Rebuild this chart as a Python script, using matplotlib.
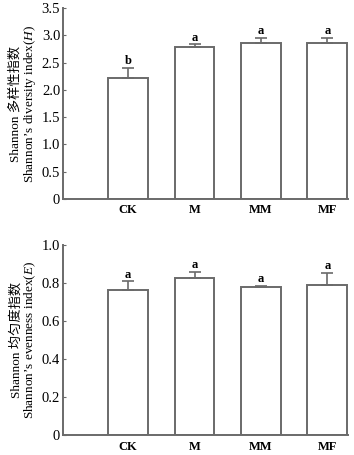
import numpy as np
import matplotlib
matplotlib.use("Agg")
import matplotlib.pyplot as plt

plt.rcParams['font.family'] = ['Liberation Serif', 'Noto Sans CJK SC']
plt.rcParams['mathtext.fontset'] = 'custom'
plt.rcParams['mathtext.it'] = 'Liberation Serif:italic'
plt.rcParams['mathtext.rm'] = 'Liberation Serif'

groups = ['CK', 'M', 'MM', 'MF']

# Shannon diversity index (H)
h_mean = [2.22, 2.78, 2.87, 2.87]
h_err = [0.19, 0.06, 0.09, 0.09]
h_sig = ['b', 'a', 'a', 'a']

# Shannon evenness index (E)
e_mean = [0.763, 0.828, 0.780, 0.789]
e_err = [0.044, 0.031, 0.004, 0.062]
e_sig = ['a', 'a', 'a', 'a']

edge = '#6a6a6a'

fig = plt.figure(figsize=(3.54, 4.55), dpi=100)
ax1 = fig.add_axes([0.178, 0.563, 0.805, 0.419])
ax2 = fig.add_axes([0.178, 0.044, 0.805, 0.418])


def draw(ax, mean, err, sig, ylim, ticks, ticklabels, off, ylabel):
    x = np.arange(len(groups))
    ax.bar(x, mean, width=0.6, color='white', edgecolor=edge, linewidth=1.4,
           zorder=2)
    ax.errorbar(x, mean, yerr=[np.zeros(len(err)), err], fmt='none',
                ecolor=edge, elinewidth=1.2, capsize=4, capthick=1.2, zorder=3)
    for xi, m, e, s in zip(x, mean, err, sig):
        ax.text(xi, m + e + off, s, ha='center', va='bottom', fontsize=9,
                fontweight='bold')
    ax.set_xlim(-0.98, 3.31)
    ax.set_ylim(*ylim)
    ax.set_yticks(ticks)
    ax.set_yticklabels(ticklabels)
    ax.set_xticks(x)
    ax.set_xticklabels(groups, fontweight='bold')
    ax.tick_params(axis='x', length=0, labelsize=9, pad=4)
    ax.tick_params(axis='y', direction='in', length=2, width=0.8,
                   labelsize=10.5, pad=2, color=edge)
    for sp in ['top', 'right']:
        ax.spines[sp].set_visible(False)
    for sp in ['left', 'bottom']:
        ax.spines[sp].set_color(edge)
        ax.spines[sp].set_linewidth(1.4)
    ax.set_ylabel(ylabel, fontsize=9.5, linespacing=1.0, labelpad=3)


draw(ax1, h_mean, h_err, h_sig, (0, 3.5),
     [0, 0.5, 1.0, 1.5, 2.0, 2.5, 3.0, 3.5],
     ['0', '0.5', '1.0', '1.5', '2.0', '2.5', '3.0', '3.5'], 0.01,
     'Shannon 多样性指数\nShannon’s diversity index($\\mathit{H}$)')
draw(ax2, e_mean, e_err, e_sig, (0, 1.0),
     [0, 0.2, 0.4, 0.6, 0.8, 1.0],
     ['0', '0.2', '0.4', '0.6', '0.8', '1.0'], 0.005,
     'Shannon 均匀度指数\nShannon’s evenness index($\\mathit{E}$)')

fig.savefig('out.png', dpi=100)
